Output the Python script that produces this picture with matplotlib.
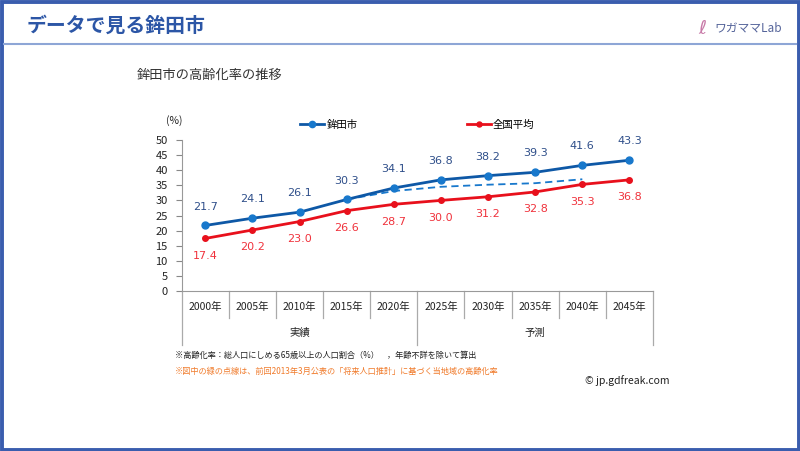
import matplotlib.pyplot as plt
from matplotlib.patches import Rectangle
from matplotlib.lines import Line2D

plt.rcParams['font.family'] = ['Noto Sans CJK JP', 'DejaVu Sans']

# data
years = ["2000年", "2005年", "2010年", "2015年", "2020年",
         "2025年", "2030年", "2035年", "2040年", "2045年"]
hokota = [21.7, 24.1, 26.1, 30.3, 34.1, 36.8, 38.2, 39.3, 41.6, 43.3]
national = [17.4, 20.2, 23.0, 26.6, 28.7, 30.0, 31.2, 32.8, 35.3, 36.8]
# previous projection (dotted), 2015-2040
prev_idx = [3, 4, 5, 6, 7, 8]
prev_proj = [30.3, 33.1, 34.5, 35.2, 35.7, 37.0]
groups = ["実績", "予測"]

W, H = 800, 451
fig = plt.figure(figsize=(8, 4.51), dpi=100)

# frame and header
fig.patches.append(Rectangle((1.5 / W, 1.5 / H), 1 - 3 / W, 1 - 3 / H, transform=fig.transFigure,
                             fill=False, edgecolor="#3A5DAE", linewidth=2.8))
fig.add_artist(Line2D([4 / W, 1 - 4 / W], [1 - 44 / H, 1 - 44 / H], color="#8EA6D6", linewidth=1.5))
fig.text(27 / W, 1 - 25 / H, "データで見る鉾田市", fontsize=14.3, fontweight="bold",
         color="#2C56A6", va="center")
fig.text(782 / W, 1 - 28 / H, "ワガママLab", fontsize=8.5, color="#55649A", va="center", ha="right")
fig.text(702 / W, 1 - 28 / H, "ℓ", fontsize=14, color="#C87AA8", va="center", ha="center",
         style="italic", family=["DejaVu Sans"])

fig.text(137 / W, 1 - 75 / H, "鉾田市の高齢化率の推移", fontsize=9.5, color="#333333", va="center")

# axes
left, right, top, bottom = 181.7, 653, 140, 291
ax = fig.add_axes([left / W, 1 - bottom / H, (right - left) / W, (bottom - top) / H])
x = list(range(len(years)))

ax.plot(x, hokota, color="#0E58A6", linewidth=2, marker="o", markersize=5,
        markerfacecolor="#1878CC", markeredgecolor="#1878CC", label="鉾田市", zorder=3)
ax.plot(x, national, color="#E8101C", linewidth=2, marker="o", markersize=4,
        markerfacecolor="#E8101C", markeredgecolor="#E8101C", label="全国平均", zorder=3)
ax.plot(prev_idx, prev_proj, color="#1878CC", linewidth=1.3, linestyle=(0, (4, 2.5)), zorder=2)

for i, v in enumerate(hokota):
    ax.annotate(f"{v:.1f}", (i, v), xytext=(0, 10), textcoords="offset points",
                ha="center", va="bottom", fontsize=8, color="#2F4F8A", family=["DejaVu Sans"])
for i, v in enumerate(national):
    ax.annotate(f"{v:.1f}", (i, v), xytext=(0, -9), textcoords="offset points",
                ha="center", va="top", fontsize=8, color="#F0323C", family=["DejaVu Sans"])

ax.set_xlim(-0.5, len(years) - 0.5)
ax.set_ylim(0, 50)
ax.set_yticks(range(0, 51, 5))
ax.tick_params(axis="y", labelsize=8, length=4, color="#888888", labelcolor="#222222", pad=6)
ax.set_xticks([])
for s in ["top", "right"]:
    ax.spines[s].set_visible(False)
ax.spines["left"].set_color("#999999")
ax.spines["bottom"].set_color("#999999")
ax.text(-0.015, 1.13, "(%)", transform=ax.transAxes, fontsize=7.5, color="#222222",
        ha="center", va="center")

# category table under the axis
px = 1 / (bottom - top)
trans = ax.get_xaxis_transform()
for i in range(len(years) + 1):
    xb = i - 0.5
    depth = 54 if i in (0, 5, 10) else 27
    ax.plot([xb, xb], [0, -depth * px], transform=trans, clip_on=False,
            color="#AAAAAA", linewidth=0.9)
for i, yl in enumerate(years):
    ax.text(i, -16 * px, yl, transform=trans, ha="center", va="center", fontsize=7.5, color="#222222")
ax.text(2, -42 * px, groups[0], transform=trans, ha="center", va="center", fontsize=7.5, color="#222222")
ax.text(7, -42 * px, groups[1], transform=trans, ha="center", va="center", fontsize=7.5, color="#222222")

ax.legend(loc="center", bbox_to_anchor=(0.5, 1.1), ncol=2, frameon=False, fontsize=7.5,
          columnspacing=10.5, handlelength=2.3, handletextpad=0.2, markerscale=0.9)

fig.text(175 / W, 1 - 355 / H, "※高齢化率：総人口にしめる65歳以上の人口割合（%）　，年齢不詳を除いて算出",
         fontsize=5.9, color="#222222", va="center")
fig.text(175 / W, 1 - 371 / H,
         "※図中の緑の点線は、前回2013年3月公表の「将来人口推計」に基づく当地域の高齢化率",
         fontsize=5.9, color="#F07A2A", va="center")
fig.text(585 / W, 1 - 381 / H, "© jp.gdfreak.com", fontsize=7.5, color="#222222", va="center")

fig.savefig("out.png", dpi=100)
